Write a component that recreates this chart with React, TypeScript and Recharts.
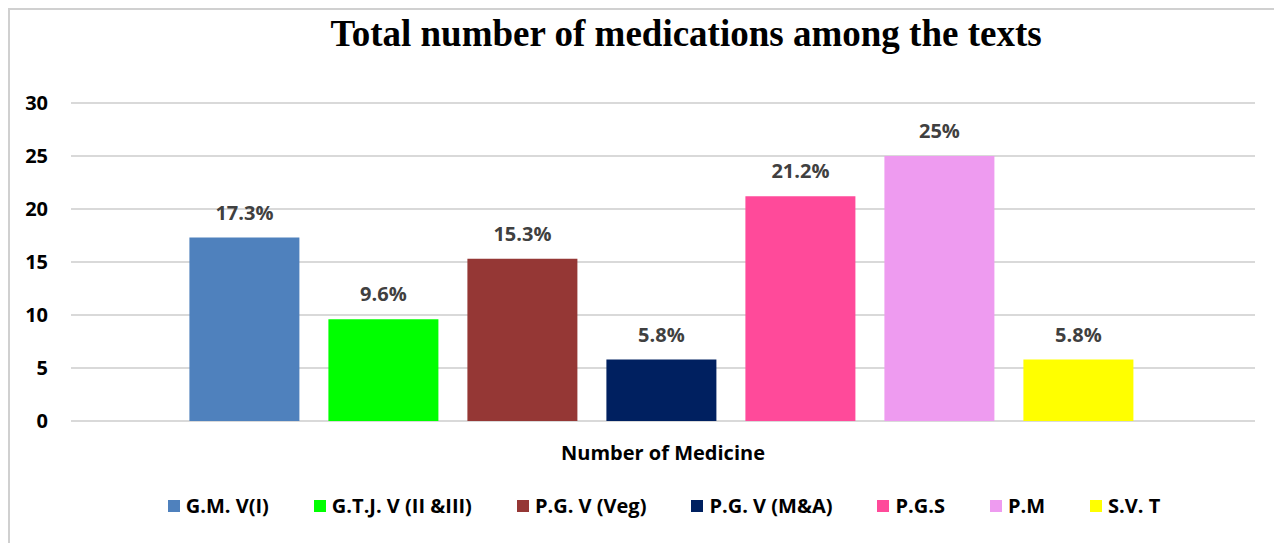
import { Bar, BarChart, CartesianGrid, LabelList, Legend, XAxis, YAxis } from 'recharts';

const categories = ['Number of Medicine'];
const seriesNames = ['G.M. V(I)', 'G.T.J. V (II &III)', 'P.G. V (Veg)', 'P.G. V (M&A)', 'P.G.S', 'P.M', 'S.V. T'];
const seriesValues = [17.3, 9.6, 15.3, 5.8, 21.2, 25, 5.8];
const yTicks = [0, 5, 10, 15, 20, 25, 30];

const colors = ['#4F81BD', '#00FF00', '#953735', '#002060', '#FF4A9A', '#EE9BF0', '#FFFF00'];
const font = '"Open Sans", Lato, sans-serif';

const data = categories.map((name) => {
    const row: Record<string, string | number> = { name };
    seriesNames.forEach((s, i) => { row['s' + i] = seriesValues[i]; });
    return row;
});

const renderLegend = () => (
    <div style={{
        display: 'flex', justifyContent: 'center', paddingLeft: 52,
        fontFamily: font, fontWeight: 700, fontSize: 20, color: '#000'
    }}>
        {seriesNames.map((s, i) => (
            <div key={s} style={{ display: 'flex', alignItems: 'center', marginRight: i < seriesNames.length - 1 ? 45 : 0 }}>
                <span style={{ width: 12, height: 12, background: colors[i], display: 'inline-block', marginRight: 6 }} />
                <span>{s}</span>
            </div>
        ))}
    </div>
);

export default function App() {
    return (
        <div style={{
            position: 'relative', width: 1272, height: 533,
            borderLeft: '2px solid #d0d0d0', borderTop: '2px solid #d0d0d0', background: '#fff'
        }}>
            <div style={{
                position: 'absolute', top: 2, left: 82, width: 1188, textAlign: 'center',
                fontFamily: '"Liberation Serif", "Times New Roman", serif', fontWeight: 700, fontSize: 37, color: '#000'
            }}>
                Total number of medications among the texts
            </div>
            <BarChart
                width={1270}
                height={531}
                data={data}
                margin={{ top: 93, right: 25, left: 11, bottom: 0 }}
                barCategoryGap="10%"
                barGap={29}
            >
                <CartesianGrid vertical={false} stroke="#d9d9d9" strokeWidth={2} />
                <XAxis
                    dataKey="name"
                    axisLine={false}
                    tickLine={false}
                    tickSize={0}
                    tickMargin={25}
                    height={93}
                    tick={{ fontFamily: font, fontWeight: 700, fontSize: 20, fill: '#000' }}
                />
                <YAxis
                    width={50}
                    domain={[0, 30]}
                    ticks={yTicks}
                    axisLine={false}
                    tickLine={false}
                    tickSize={0}
                    tickMargin={23}
                    tick={{ fontFamily: font, fontWeight: 700, fontSize: 20, fill: '#000' }}
                />
                <Legend verticalAlign="bottom" content={renderLegend} wrapperStyle={{ bottom: 22 }} />
                {seriesNames.map((s, i) => (
                    <Bar key={s} dataKey={'s' + i} name={s} fill={colors[i]} isAnimationActive={false}>
                        <LabelList
                            dataKey={'s' + i}
                            position="top"
                            offset={18}
                            formatter={(v: any) => `${v}%`}
                            style={{ fontFamily: font, fontWeight: 700, fontSize: 20, fill: '#404040' }}
                        />
                    </Bar>
                ))}
            </BarChart>
        </div>
    );
}
